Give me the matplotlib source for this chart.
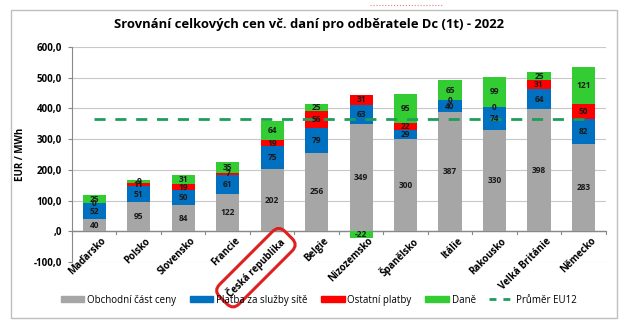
import numpy as np
import matplotlib
matplotlib.use("Agg")
import matplotlib.pyplot as plt
from matplotlib.patches import Rectangle
from matplotlib.lines import Line2D

# data
countries = ["Maďarsko", "Polsko", "Slovensko", "Francie", "Česká republika", "Belgie",
             "Nizozemsko", "Španělsko", "Itálie", "Rakousko", "Velká Británie", "Německo"]
obchodni = [40, 95, 84, 122, 202, 256, 349, 300, 387, 330, 398, 283]
site = [52, 51, 50, 61, 75, 79, 63, 29, 40, 74, 64, 82]
ostatni = [0, 11, 19, 7, 19, 56, 31, 22, 0, 0, 31, 50]
dane = [25, 9, 31, 35, 64, 25, -22, 95, 65, 99, 25, 121]
prumer_eu12 = 365

series_names = ["Obchodní část ceny", "Platba za služby sítě", "Ostatní platby", "Daně"]
colors = ["#A6A6A6", "#0070C0", "#FF0000", "#33CC33"]

plt.rcParams['font.family'] = ['Open Sans', 'DejaVu Sans']

fig = plt.figure(figsize=(6.31, 3.31), dpi=100)
ax = fig.add_axes([0.114, 0.2085, 0.846, 0.6495])

x = np.arange(len(countries))
pos_base = np.zeros(len(countries))
neg_base = np.zeros(len(countries))
for name, vals, col in zip(series_names, [obchodni, site, ostatni, dane], colors):
    vals = np.array(vals, dtype=float)
    bottoms = np.where(vals >= 0, pos_base, neg_base)
    ax.bar(x, vals, 0.52, bottom=bottoms, color=col, label=name, zorder=3)
    for xi, v, b in zip(x, vals, bottoms):
        ax.text(xi, b + v / 2, f"{int(v)}", ha='center', va='center',
                fontsize=6, fontweight='bold', color='#1a1a1a', zorder=6)
    pos_base = np.where(vals >= 0, pos_base + vals, pos_base)
    neg_base = np.where(vals < 0, neg_base + vals, neg_base)

# average line runs from first to last category centre
ax.plot([x[0], x[-1]], [prumer_eu12, prumer_eu12], color='#1E9E5A',
        lw=2, ls=(0, (4, 3.5)), zorder=5)

ax.set_xlim(-0.5, len(countries) - 0.5)
ax.set_ylim(-100, 600)
ax.set_yticks(np.arange(-100, 601, 100))
ax.set_yticklabels(["-100,0", ",0", "100,0", "200,0", "300,0", "400,0", "500,0", "600,0"],
                   fontsize=7, fontweight='bold')
ax.grid(axis='y', color='#C8C8C8', lw=0.8, zorder=0)
ax.tick_params(axis='y', length=3, color='#888888', pad=4)
for s in ['top', 'right', 'bottom']:
    ax.spines[s].set_visible(False)
ax.spines['left'].set_color('#888888')
ax.axhline(0, color='#888888', lw=1, zorder=2)
ax.set_ylabel("EUR / MWh", fontsize=7, fontweight='bold', labelpad=6)

# x labels along zero line
ax.set_xticks([])
for xi in np.arange(len(countries) + 1) - 0.5:
    ax.plot([xi, xi], [0, -8], color='#888888', lw=0.8, clip_on=False, zorder=2)
for xi, c in zip(x, countries):
    kw = {}
    if c == "Česká republika":
        kw['bbox'] = dict(boxstyle='round,pad=0.75,rounding_size=0.9', fc='none',
                          ec='#E02020', lw=2.2)
    ax.text(xi + 0.15, -14, c, rotation=45, ha='right', va='top', rotation_mode='anchor',
            fontsize=7, fontweight='bold', **kw)

fig.suptitle("Srovnání celkových cen vč. daní pro odběratele Dc (1t) - 2022",
             x=0.49, y=0.945, fontsize=9.4, fontweight='bold')

handles = [Rectangle((0, 0), 1, 1, color=c) for c in colors]
handles.append(Line2D([0], [0], color='#1E9E5A', lw=2, ls=(0, (2.5, 2.5))))
fig.legend(handles, series_names + ["Průměr EU12"], loc='center', ncol=5,
           bbox_to_anchor=(0.505, 0.093), frameon=False, fontsize=7,
           handlelength=2.4, handleheight=0.6, columnspacing=1.4, handletextpad=0.3)

# chart border
fig.add_artist(Rectangle((11 / 631, 1 - 318 / 331), (617 - 11) / 631, (318 - 10) / 331,
                         transform=fig.transFigure, fill=False, ec='#BFBFBF', lw=1))
fig.add_artist(Line2D([370 / 631, 442 / 631], [1 - 5 / 331, 1 - 5 / 331],
                      transform=fig.transFigure, color='#E08080', lw=0.8, ls=':'))

fig.savefig("out.png", dpi=100, facecolor='white')
